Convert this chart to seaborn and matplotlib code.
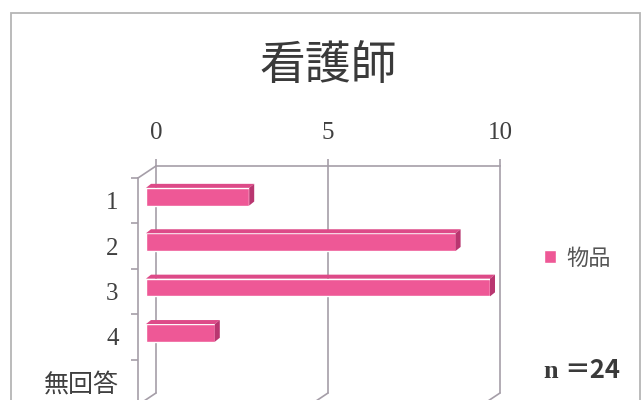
import matplotlib
matplotlib.use("Agg")
import matplotlib.pyplot as plt
from matplotlib.patches import Polygon, Rectangle
from matplotlib.lines import Line2D
from matplotlib.transforms import IdentityTransform
import seaborn as sns
import pandas as pd

# ---- data ----
categories = ["1", "2", "3", "4", "無回答"]
counts = [3, 9, 10, 2, 0]
series_name = "物品"
x_ticks = [0, 5, 10]
title = "看護師"
n_text = ("n", "＝24")

W, H = 641, 400
sns.set_theme(style="white")
plt.rcParams["font.family"] = ["Liberation Serif", "Noto Sans CJK JP", "DejaVu Sans"]

PINK = "#ee5896"
PINK_TOP = "#dd4a88"
PINK_SIDE = "#b93670"
GRID = "#a59ea8"
TEXT = "#404040"
SANS = ["Noto Sans CJK JP", "DejaVu Sans"]

fig = plt.figure(figsize=(W / 100, H / 100), dpi=100)


def frac(left, top, right, bottom):
    """Axes rectangle from pixel edges (origin top-left)."""
    return [left / W, 1 - bottom / H, (right - left) / W, (bottom - top) / H]


# ---- outer chart frame ----
fig.add_artist(Rectangle((11, -20), 629, H - 13 + 20, fill=False,
                         edgecolor="#b5b5b5", lw=1.3,
                         transform=IdentityTransform()))

# ---- back wall: value axis on top with vertical gridlines ----
ax_back = fig.add_axes(frac(156, 166, 500, 393))
ax_back.set_facecolor("none")
ax_back.set_xlim(0, 10)
ax_back.set_ylim(4.5, -0.5)
for s in ["left", "right", "bottom"]:
    ax_back.spines[s].set_visible(False)
ax_back.spines["top"].set_color(GRID)
ax_back.spines["top"].set_linewidth(1.2)
ax_back.set_xticks(x_ticks)
ax_back.set_yticks([])
ax_back.tick_params(axis="x", top=True, labeltop=True, bottom=False,
                    labelbottom=False, direction="out", length=5, width=1.2,
                    color=GRID, pad=11, labelsize=18, labelcolor=TEXT)
for v in x_ticks:
    ax_back.axvline(v, color=GRID, lw=1.2, clip_on=False)

# ---- bars ----
ax = fig.add_axes(frac(146, 174, 490, 401))
df = pd.DataFrame({"category": categories, "count": counts})
sns.barplot(data=df, x="count", y="category", orient="h", color=PINK,
            saturation=1, width=0.39, ax=ax, label=series_name)
ax.set_xlim(0, 10)
ax.set_ylim(4.5, -0.5)
handles, labels = ax.get_legend_handles_labels()
if ax.get_legend() is not None:
    ax.get_legend().remove()
ax.axis("off")

# 3-D extrusion: top and right faces of every bar
dx, dy = 5, 4
for bar in list(ax.patches):
    w = bar.get_width()
    if w <= 0:
        continue
    x0, y0, h = bar.get_x(), bar.get_y(), bar.get_height()
    (ax0, ay0) = ax.transData.transform((x0, y0))
    (ax1, ay1) = ax.transData.transform((x0 + w, y0 + h))
    left, right = min(ax0, ax1), max(ax0, ax1)
    top, bot = max(ay0, ay1), min(ay0, ay1)
    fig.add_artist(Polygon([(left, top), (right, top), (right + dx, top + dy),
                            (left + dx, top + dy)], closed=True,
                           facecolor=PINK_TOP, edgecolor="none",
                           transform=IdentityTransform()))
    fig.add_artist(Polygon([(right, bot), (right, top), (right + dx, top + dy),
                            (right + dx, bot + dy)], closed=True,
                           facecolor=PINK_SIDE, edgecolor="none",
                           transform=IdentityTransform()))

# ---- front edge: category axis ----
ax_front = fig.add_axes(frac(138, 178, 139, 405))
ax_front.set_facecolor("none")
ax_front.set_xlim(0, 1)
ax_front.set_ylim(4.5, -0.5)
for s in ["top", "right", "bottom"]:
    ax_front.spines[s].set_visible(False)
ax_front.spines["left"].set_color(GRID)
ax_front.spines["left"].set_linewidth(1.2)
ax_front.set_xticks([])
ax_front.set_yticks(range(len(categories)))
ax_front.set_yticklabels(categories)
ax_front.set_yticks([i - 0.5 for i in range(len(categories) + 1)], minor=True)
ax_front.tick_params(axis="y", which="major", left=True, length=0, pad=14,
                     labelsize=18, labelcolor=TEXT)
ax_front.tick_params(axis="y", which="minor", left=True, length=5, width=1.2,
                     color=GRID, direction="out")

# floor / wall depth edges
edges = [((138, 178), (156, 166))] + [((x, 393), (x - 18, 405)) for x in (156, 328, 500)]
for (xa, ya), (xb, yb) in edges:
    fig.add_artist(Line2D([xa, xb], [H - ya, H - yb], color=GRID, lw=1.2,
                          transform=IdentityTransform()))

# ---- title, legend, sample size ----
fig.text(328 / W, 1 - 66 / H, title, ha="center", va="center", fontsize=33,
         family=SANS, color="#3a3a3a")

fig.legend(handles, labels, loc="center left",
           bbox_to_anchor=(544 / W, 1 - 258 / H), frameon=False,
           prop={"family": SANS, "size": 16}, labelcolor="#555555",
           handlelength=0.55, handleheight=0.55, handletextpad=0.45,
           borderpad=0, borderaxespad=0)

fig.text(543 / W, 1 - 372 / H, n_text[0], ha="left", va="center",
         fontsize=19, fontweight="bold", family=["Liberation Serif"],
         color="#3a3a3a")
fig.text(564 / W, 1 - 371 / H, n_text[1], ha="left", va="center",
         fontsize=18.5, fontweight="bold", family=SANS, color="#3a3a3a")

fig.savefig("out.png", dpi=100, facecolor="white")
